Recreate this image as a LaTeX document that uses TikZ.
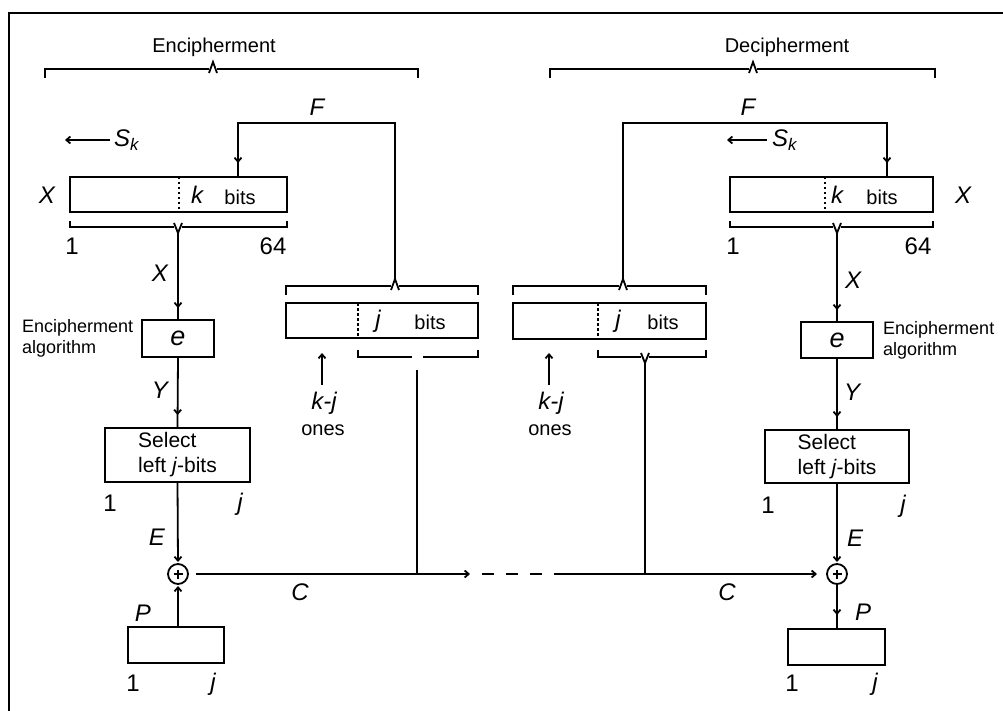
\documentclass[tikz,border=0pt]{standalone}
\usepackage{fontspec}
\setmainfont{Liberation Sans}
\usetikzlibrary{arrows.meta,decorations.markings}
\tikzset{
  ln/.style={line width=1.8pt},
  bx/.style={draw, line width=2.2pt, inner sep=0pt, outer sep=0pt, rectangle},
  dv/.style={line width=1.8pt, dash pattern=on 2.5pt off 2.5pt},
  barb/.tip={Straight Barb[length=4pt,width=7pt]},
  tip/.style={ln, -barb},
  arrowat/.style={ln, postaction={decorate}, decoration={markings, mark=at position #1 with {\arrow{barb}}}},
  it/.style={font=\fontsize{24}{26}\selectfont\itshape, inner sep=0pt},
  txt/.style={font=\fontsize{20}{22}\selectfont, inner sep=0pt},
  num/.style={font=\fontsize{24}{26}\selectfont, inner sep=0pt},
  sm/.style={font=\fontsize{18}{21}\selectfont, inner sep=0pt, align=left},
  xor/.style={draw, circle, line width=1.8pt, minimum size=20pt, inner sep=0pt, outer sep=0pt},
}
\begin{document}
\begin{tikzpicture}[x=1pt,y=-1pt]
\useasboundingbox (0,0) rectangle (1003,711);
\draw[line width=2.5pt] (9,711) -- (9,13) -- (1003,13);

% ---------------- headings and braces
\node[txt] (encH) at (214,47) {Encipherment};
\node[txt] (decH) at (787,47) {Decipherment};
\draw[ln] (45,78) -- (45,69) -- (209,69);
\draw[ln] (209,73) -- (213,62) -- (217,73);
\draw[ln] (217,69) -- (418,69) -- (418,78);
\draw[ln] (550,78) -- (550,69) -- (749,69);
\draw[ln] (749,73) -- (753,62) -- (757,73);
\draw[ln] (757,69) -- (935,69) -- (935,78);

% ---------------- left side
\node[bx, minimum width=217pt, minimum height=35pt] (regL) at (178.5,194.5) {};
\draw[dv] (179,177) -- (179,212);
\node[it] (kL) at (197,195) {k};
\node[txt] (bitsL) at (240,197) {bits};
\node[it] (XL) at (47,195) {X};
\draw[ln] (70,221) -- (70,227) -- (174,227);
\draw[ln] (174,223) -- (178,233) -- (182,223);
\draw[ln] (182,227) -- (287,227) -- (287,221);
\coordinate (vL) at (178,233);
\node[num] (oneL) at (72,246) {1};
\node[num] (sfL) at (273,246) {64};
\coordinate (skLa) at (110,140);
\coordinate (skLb) at (65,140);
\draw[tip] (skLa) -- (skLb);
\node[it, anchor=west] (SkL) at (114,140) {S\textsubscript{k}};

\node[bx, minimum width=72pt, minimum height=37pt] (eL) at (178,338.5) {\fontsize{27}{28}\selectfont\itshape e};
\node[sm, anchor=west] (algL) at (22,338) {Encipherment\\algorithm};
\node[it] (XlabL) at (160,273) {X};
\draw[arrowat=-12pt] (vL) -- (eL.north);

\node[bx, minimum width=145pt, minimum height=54pt, align=left, font=\fontsize{21}{25}\selectfont] (selL) at (177.5,455) {Select\\left \textit{j}-bits};
\node[it] (YL) at (160,390) {Y};
\draw[arrowat=-13pt] (eL.south) -- (selL.north);
\node[num] (oneSL) at (110,503) {1};
\node[it] (jSL) at (240,504) {j};

\node[xor] (xorL) at (178,574) {};
\draw[ln] ([xshift=-4.5pt]xorL.center) -- ([xshift=4.5pt]xorL.center);
\draw[ln] ([yshift=-4.5pt]xorL.center) -- ([yshift=4.5pt]xorL.center);
\node[it] (EL) at (157,537) {E};
\draw[tip, shorten >=2pt] (selL.south) -- (xorL.north);

\node[bx, minimum width=96pt, minimum height=36pt] (pL) at (176,645) {};
\node[it] (PL) at (143,613) {P};
\draw[tip, shorten >=2pt] (pL.north -| xorL) -- (xorL.south);
\node[num] (onePL) at (133,683) {1};
\node[it] (jPL) at (213,684) {j};

% middle-left register
\node[bx, minimum width=192pt, minimum height=35pt] (midL) at (382,320.5) {};
\draw[dv] (358,303) -- (358,338);
\node[it] (jML) at (378,321) {j};
\node[txt] (bitsML) at (430,322) {bits};
\draw[ln] (286,295) -- (286,286) -- (391,286);
\draw[ln] (391,290) -- (395,279) -- (399,290);
\draw[ln] (399,286) -- (478,286) -- (478,295);
\coordinate (pkML) at (395,279);
\draw[ln] (358,350) -- (358,357) -- (412,357);
\draw[ln] (423,357) -- (478,357) -- (478,350);
\coordinate (dnML) at (417,370);
\coordinate (cjL) at (417,574);
\draw[ln] (dnML) -- (cjL);
\draw[arrowat=-14pt] (pkML) -- (395,123) -- (238,123) -- (238,177);
\node[it] (FL) at (317,107) {F};
\coordinate (kjLa) at (322,385);
\coordinate (kjLb) at (322,353);
\draw[tip] (kjLa) -- (kjLb);
\node[it] (kjL) at (324,403) {k-j};
\node[txt] (onesL) at (323,430) {ones};

% ---------------- right side
\node[bx, minimum width=203pt, minimum height=35pt] (regR) at (831.5,194.5) {};
\draw[dv] (825,177) -- (825,212);
\node[it] (kR) at (837,195) {k};
\node[txt] (bitsR) at (882,197) {bits};
\node[it] (XR) at (963,195) {X};
\draw[ln] (730,221) -- (730,227) -- (833,227);
\draw[ln] (833,223) -- (837,233) -- (841,223);
\draw[ln] (841,227) -- (933,227) -- (933,221);
\coordinate (vR) at (837,233);
\node[num] (oneR) at (733,246) {1};
\node[num] (sfR) at (918,246) {64};
\coordinate (skRa) at (767,140);
\coordinate (skRb) at (727,140);
\draw[tip] (skRa) -- (skRb);
\node[it, anchor=west] (SkR) at (772,140) {S\textsubscript{k}};

\node[bx, minimum width=72pt, minimum height=36pt] (eR) at (837,340) {\fontsize{27}{28}\selectfont\itshape e};
\node[sm, anchor=west] (algR) at (883,340) {Encipherment\\algorithm};
\node[it] (XlabR) at (853,280) {X};
\draw[arrowat=-12pt] (vR) -- (eR.north);

\node[bx, minimum width=144pt, minimum height=53pt, align=left, font=\fontsize{21}{25}\selectfont] (selR) at (837,456.5) {Select\\left \textit{j}-bits};
\node[it] (YR) at (852,392) {Y};
\draw[arrowat=-13pt] (eR.south) -- (selR.north);
\node[num] (oneSR) at (768,505) {1};
\node[it] (jSR) at (903,506) {j};

\node[xor] (xorR) at (837,574) {};
\draw[ln] ([xshift=-4.5pt]xorR.center) -- ([xshift=4.5pt]xorR.center);
\draw[ln] ([yshift=-4.5pt]xorR.center) -- ([yshift=4.5pt]xorR.center);
\node[it] (ER) at (855,538) {E};
\draw[tip, shorten >=2pt] (selR.south) -- (xorR.north);

\node[bx, minimum width=97pt, minimum height=36pt] (pR) at (836.5,647) {};
\node[it] (PR) at (863,612) {P};
\draw[arrowat=-14pt] (xorR.south) -- (pR.north -| xorR);
\node[num] (onePR) at (792,683) {1};
\node[it] (jPR) at (875,684) {j};

% middle-right register
\node[bx, minimum width=193pt, minimum height=36pt] (midR) at (609.5,321) {};
\draw[dv] (598,303) -- (598,339);
\node[it] (jMR) at (618,321) {j};
\node[txt] (bitsMR) at (663,322) {bits};
\draw[ln] (513,295) -- (513,286) -- (619,286);
\draw[ln] (619,290) -- (623,279) -- (627,290);
\draw[ln] (627,286) -- (706,286) -- (706,295);
\coordinate (pkMR) at (623,279);
\draw[ln] (598,350) -- (598,357) -- (641,357);
\draw[ln] (641,353) -- (645,363) -- (649,353);
\draw[ln] (649,357) -- (706,357) -- (706,350);
\coordinate (dnMR) at (645,363);
\coordinate (cjR) at (645,574);
\draw[ln] (dnMR) -- (cjR);
\draw[arrowat=-14pt] (pkMR) -- (623,123) -- (887,123) -- (887,177);
\node[it] (FR) at (748,107) {F};
\coordinate (kjRa) at (549,385);
\coordinate (kjRb) at (549,353);
\draw[tip] (kjRa) -- (kjRb);
\node[it] (kjR) at (551,403) {k-j};
\node[txt] (onesR) at (550,430) {ones};

% ---------------- C line
\coordinate (cA) at (470,574);
\coordinate (dA) at (482,574);
\coordinate (dB) at (543,574);
\coordinate (cB) at (554,574);
\draw[tip] ([xshift=8pt]xorL.east) -- (cA);
\draw[ln, dash pattern=on 12pt off 12pt] (dA) -- (dB);
\draw[tip, shorten >=10pt] (cB) -- (xorR.west);
\node[it] (CL) at (300,592) {C};
\node[it] (CR) at (727,592) {C};
\end{tikzpicture}
\end{document}
